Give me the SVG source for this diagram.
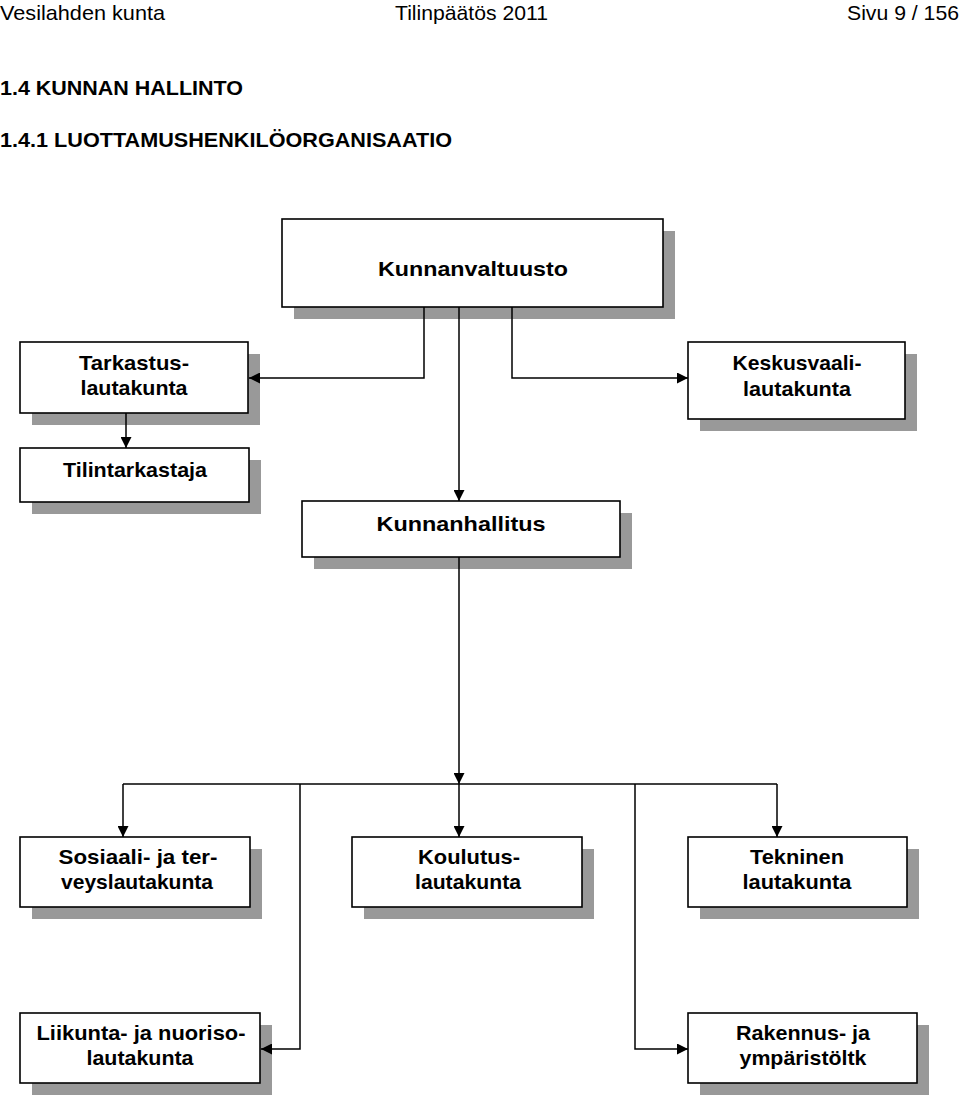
<svg xmlns="http://www.w3.org/2000/svg" width="960" height="1096" viewBox="0 0 960 1096">
<style>
.hd{font-family:"Liberation Sans",Arial,sans-serif;font-size:21px;fill:#000}
.hb{font-family:"Liberation Sans",Arial,sans-serif;font-size:21px;font-weight:bold;fill:#000}
.box{fill:#fff;stroke:#000;stroke-width:1.6}
.sh{fill:#999}
.t{font-family:"Liberation Sans",Arial,sans-serif;font-size:21px;font-weight:bold;fill:#000;text-anchor:middle}
.c{fill:none;stroke:#000;stroke-width:1.5}
</style>
<defs>
<marker id="ah" viewBox="0 0 10 10" refX="10" refY="5" markerWidth="11" markerHeight="11" markerUnits="userSpaceOnUse" orient="auto">
<path d="M0,0 L10,5 L0,10 Z" fill="#000"/>
</marker>
</defs>
<rect width="960" height="1096" fill="#fff"/>
<g id="header">
<text class="hd" x="0" y="20" textLength="165" lengthAdjust="spacingAndGlyphs">Vesilahden kunta</text>
<text class="hd" x="395" y="20" textLength="153" lengthAdjust="spacingAndGlyphs">Tilinpäätös 2011</text>
<text class="hd" x="847" y="20" textLength="112" lengthAdjust="spacingAndGlyphs">Sivu 9 / 156</text>
<text class="hb" x="0" y="95" textLength="243" lengthAdjust="spacingAndGlyphs">1.4 KUNNAN HALLINTO</text>
<text class="hb" x="0" y="147" textLength="452" lengthAdjust="spacingAndGlyphs">1.4.1 LUOTTAMUSHENKILÖORGANISAATIO</text>
</g>
<g id="kunnanvaltuusto">
<rect class="sh" x="294" y="231" width="381" height="88"/>
<rect class="box" x="282" y="219" width="381" height="88"/>
<text class="t" x="473" y="276" font-size="22" textLength="190" lengthAdjust="spacingAndGlyphs">Kunnanvaltuusto</text>
</g>
<g id="tarkastuslautakunta">
<rect class="sh" x="32" y="354" width="228" height="71"/>
<rect class="box" x="20" y="342" width="228" height="71"/>
<text class="t" x="134" y="370" textLength="110" lengthAdjust="spacingAndGlyphs">Tarkastus-</text>
<text class="t" x="134" y="395" textLength="107" lengthAdjust="spacingAndGlyphs">lautakunta</text>
</g>
<g id="keskusvaalilautakunta">
<rect class="sh" x="700" y="354" width="217" height="77"/>
<rect class="box" x="688" y="342" width="217" height="77"/>
<text class="t" x="797" y="370" textLength="129" lengthAdjust="spacingAndGlyphs">Keskusvaali-</text>
<text class="t" x="797" y="396" textLength="108" lengthAdjust="spacingAndGlyphs">lautakunta</text>
</g>
<g id="tilintarkastaja">
<rect class="sh" x="32" y="460" width="229" height="54"/>
<rect class="box" x="20" y="448" width="229" height="54"/>
<text class="t" x="135" y="477" textLength="144" lengthAdjust="spacingAndGlyphs">Tilintarkastaja</text>
</g>
<g id="kunnanhallitus">
<rect class="sh" x="314" y="513" width="318" height="56"/>
<rect class="box" x="302" y="501" width="318" height="56"/>
<text class="t" x="461" y="531" textLength="169" lengthAdjust="spacingAndGlyphs">Kunnanhallitus</text>
</g>
<g id="sosiaali">
<rect class="sh" x="32" y="849" width="230" height="70"/>
<rect class="box" x="20" y="837" width="230" height="70"/>
<text class="t" x="138" y="864" textLength="159" lengthAdjust="spacingAndGlyphs">Sosiaali- ja ter-</text>
<text class="t" x="137" y="889" textLength="152" lengthAdjust="spacingAndGlyphs">veyslautakunta</text>
</g>
<g id="koulutus">
<rect class="sh" x="364" y="849" width="230" height="70"/>
<rect class="box" x="352" y="837" width="230" height="70"/>
<text class="t" x="469" y="864" textLength="102" lengthAdjust="spacingAndGlyphs">Koulutus-</text>
<text class="t" x="468" y="889" textLength="106" lengthAdjust="spacingAndGlyphs">lautakunta</text>
</g>
<g id="tekninen">
<rect class="sh" x="700" y="849" width="219" height="70"/>
<rect class="box" x="688" y="837" width="219" height="70"/>
<text class="t" x="797" y="864" textLength="94" lengthAdjust="spacingAndGlyphs">Tekninen</text>
<text class="t" x="797" y="889" textLength="109" lengthAdjust="spacingAndGlyphs">lautakunta</text>
</g>
<g id="liikunta">
<rect class="sh" x="32" y="1025" width="240" height="70"/>
<rect class="box" x="20" y="1013" width="240" height="70"/>
<text class="t" x="141" y="1040" textLength="209" lengthAdjust="spacingAndGlyphs">Liikunta- ja nuoriso-</text>
<text class="t" x="140" y="1065" textLength="107" lengthAdjust="spacingAndGlyphs">lautakunta</text>
</g>
<g id="rakennus">
<rect class="sh" x="700" y="1025" width="229" height="70"/>
<rect class="box" x="688" y="1013" width="229" height="70"/>
<text class="t" x="803" y="1040" textLength="134" lengthAdjust="spacingAndGlyphs">Rakennus- ja</text>
<text class="t" x="803" y="1065" textLength="127" lengthAdjust="spacingAndGlyphs">ympäristöltk</text>
</g>
<g id="connectors">
<path class="c" d="M424,307 V378 H249" marker-end="url(#ah)"/>
<path class="c" d="M459,307 V501" marker-end="url(#ah)"/>
<path class="c" d="M512,307 V378 H688" marker-end="url(#ah)"/>
<path class="c" d="M126,413 V448" marker-end="url(#ah)"/>
<path class="c" d="M459,557 V784" marker-end="url(#ah)"/>
<path class="c" d="M123,784 H777"/>
<path class="c" d="M123,784 V837" marker-end="url(#ah)"/>
<path class="c" d="M459,784 V837" marker-end="url(#ah)"/>
<path class="c" d="M777,784 V837" marker-end="url(#ah)"/>
<path class="c" d="M300,784 V1049 H261" marker-end="url(#ah)"/>
<path class="c" d="M635,784 V1049 H688" marker-end="url(#ah)"/>
</g>
</svg>
